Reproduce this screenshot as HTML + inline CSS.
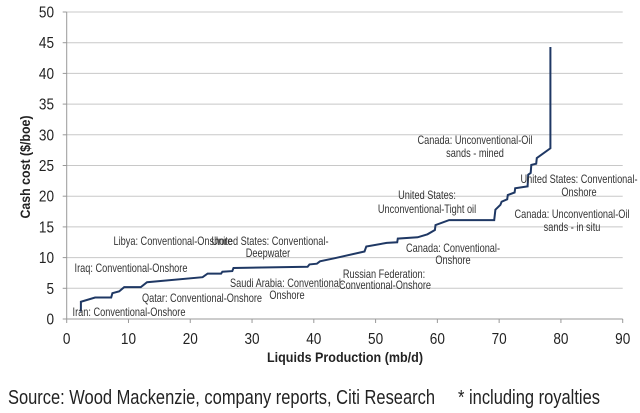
<!DOCTYPE html>
<html><head><meta charset="utf-8"><style>
body{margin:0;background:#fff;}
svg{display:block;font-family:"Liberation Sans",Arial,sans-serif;}
</style></head><body>
<svg id="chart" width="640" height="413" viewBox="0 0 640 413">
<g id="grid"></g>
<g id="yticks"></g>
<g id="xticks"></g>
<g id="series"></g>
<g id="notes" font-size="11.5" fill="#333" text-anchor="middle"></g>
<text x="30" y="167" transform="rotate(-90 30 167)" text-anchor="middle" font-size="14" font-weight="bold" fill="#222" textLength="103" lengthAdjust="spacingAndGlyphs">Cash cost ($/boe)</text>
<text x="345" y="362" text-anchor="middle" font-size="14" font-weight="bold" fill="#222" textLength="156" lengthAdjust="spacingAndGlyphs">Liquids Production (mb/d)</text>
<text x="8" y="404" font-size="20" fill="#222" textLength="427" lengthAdjust="spacingAndGlyphs">Source: Wood Mackenzie, company reports, Citi Research</text>
<text x="458" y="404" font-size="20" fill="#222" textLength="142" lengthAdjust="spacingAndGlyphs">* including royalties</text>
</svg>
<script>
const xTicks=[0,10,20,30,40,50,60,70,80,90];
const yTicks=[0,5,10,15,20,25,30,35,40,45,50];
const curveX=[2.3,2.3,4.6,4.6,7.2,7.4,8.5,9.3,12,13,22,22.8,25,25.2,26.8,27,39,39.3,40.5,41,43.4,48.2,48.5,51.8,53.5,53.6,56.8,58.4,59.6,59.7,61.9,69.2,69.4,70.2,70.4,71.3,71.4,72.5,72.6,74.6,74.7,75.1,75.2,76,76.1,78.3,78.3];
const curveY=[1.2,2.8,3.5,3.5,3.5,4.2,4.5,5.2,5.2,6.0,6.8,7.4,7.4,7.7,7.8,8.3,8.5,8.9,9.0,9.4,9.9,11.0,11.8,12.4,12.5,13.1,13.3,13.8,14.5,15.3,16.1,16.1,17.8,18.6,19.1,19.5,20.2,20.6,21.3,21.6,23.5,23.8,25.1,25.3,26.2,27.8,44.3];
const notes=[
 ["Libya: Conventional-Onshore",173,245],
 ["United States: Conventional-",270,245],["Deepwater",268,257],
 ["Iraq: Conventional-Onshore",131,272],
 ["Saudi Arabia: Conventional-",287,287],["Onshore",287,299],
 ["Qatar: Conventional-Onshore",202,302],
 ["Iran: Conventional-Onshore",129,316],
 ["Russian Federation:",384,278],["Conventional-Onshore",385,289],
 ["Canada: Conventional-",453,252],["Onshore",453,264],
 ["United States:",427,199],["Unconventional-Tight oil",427,213],
 ["Canada: Unconventional-Oil",475,144],["sands - mined",475,157],
 ["United States: Conventional-",579,183],["Onshore",579,196],
 ["Canada: Unconventional-Oil",572,218],["sands - in situ",572,231]
];
const NS="http://www.w3.org/2000/svg";
const X0=66.7,X1=622.7,Y0=319,Y1=12;
function sx(v){return X0+(v-0)/(90-0)*(X1-X0);}
function sy(v){return Y0-(v-0)/(50-0)*(Y0-Y1);}
function mk(t,a,p){const e=document.createElementNS(NS,t);for(const k in a)e.setAttribute(k,a[k]);p.appendChild(e);return e;}
const grid=document.getElementById('grid'),yt=document.getElementById('yticks'),xt=document.getElementById('xticks');
yTicks.forEach(v=>{
 if(v>0){const l=mk('line',{x1:X0,x2:X1,y1:sy(v),y2:sy(v),stroke:'#c8c8c8','stroke-width':1},grid);
 
 }
 const t=mk('text',{transform:'translate(54,'+(sy(v)+5.5)+') scale(0.85,1)','text-anchor':'end','font-size':16,fill:'#222'},yt);t.textContent=v;
 
 
 const tk=mk('line',{x1:X0-4,x2:X0,y1:sy(v),y2:sy(v),stroke:'#999'},yt);
 
 
});
const ya=mk('line',{x1:X0,x2:X0,y1:Y1,y2:Y0,stroke:'#999'},yt);


const xa=mk('line',{x1:X0,x2:X1,y1:Y0,y2:Y0,stroke:'#999'},xt);


xTicks.forEach(v=>{
 const tk=mk('line',{x1:sx(v),x2:sx(v),y1:Y0,y2:Y0+4,stroke:'#999'},xt);
 
 
 const t=mk('text',{transform:'translate('+sx(v)+','+(Y0+25)+') scale(0.85,1)','text-anchor':'middle','font-size':16,fill:'#222'},xt);t.textContent=v;
 
 
});
const pts=curveX.map((x,i)=>sx(x).toFixed(1)+','+sy(curveY[i]).toFixed(1)).join(' ');
const pl=mk('polyline',{points:pts,fill:'none',stroke:'#1f3864','stroke-width':2,'stroke-linejoin':'miter'},document.getElementById('series'));


const ng=document.getElementById('notes');
notes.forEach(n=>{const t=mk('text',{transform:'translate('+n[1]+','+n[2]+') scale(0.8,1)'},ng);t.textContent=n[0];
 
 });
</script>
</body></html>
